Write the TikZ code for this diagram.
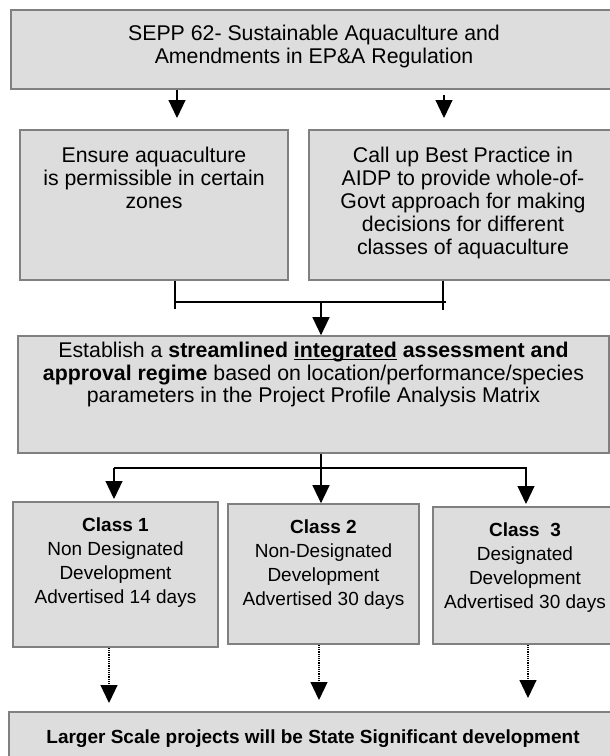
\documentclass[tikz,border=0pt]{standalone}
\usepackage{fontspec}
\setmainfont{Liberation Sans}
\usetikzlibrary{arrows.meta}
\definecolor{boxfill}{RGB}{221,221,221}
\definecolor{boxline}{RGB}{128,128,128}
\newsavebox\ulbox
\newcommand\ulword[1]{\sbox\ulbox{#1}\rlap{\rule[-2.6pt]{\wd\ulbox}{1.3pt}}\usebox\ulbox}
\tikzset{
  boxnode/.style={rectangle, draw=boxline, fill=boxfill, line width=1.6pt, inner sep=0pt},
  maintxt/.style={anchor=north, inner sep=0pt, align=center, font=\fontsize{21.3}{23}\selectfont},
  esttxt/.style={maintxt, font=\fontsize{21.3}{22}\selectfont},
  classtxt/.style={maintxt, font=\fontsize{19}{24}\selectfont},
  link/.style={line width=1.2pt, black},
  arr/.style={link, -{Triangle[width=17pt,length=18pt]}},
  darr/.style={arr, densely dotted}
}
\begin{document}
\begin{tikzpicture}[x=1pt, y=-1pt]
\useasboundingbox (0,0) rectangle (610,756);

% boxes
\node[boxnode, minimum width=606pt, minimum height=79pt]  (top)    at (314,49.5)  {};
\node[boxnode, minimum width=268pt, minimum height=150pt] (ensure) at (154,205)   {};
\node[boxnode, minimum width=308pt, minimum height=150pt] (callup) at (463,205)   {};
\node[boxnode, minimum width=591pt, minimum height=117pt] (est)    at (313.5,394.5) {};
\node[boxnode, minimum width=205pt, minimum height=145pt] (c1)     at (115.5,574.5) {};
\node[boxnode, minimum width=191pt, minimum height=140pt] (c2)     at (323.5,574) {};
\node[boxnode, minimum width=184pt, minimum height=137pt] (c3)     at (525,575.5) {};
\node[boxnode, minimum width=608pt, minimum height=70pt]  (bot)    at (313,747)   {};

% texts
\node[maintxt] (toptxt) at (314,23.9)
  {\strut SEPP 62- Sustainable Aquaculture and\\Amendments in EP\&A Regulation};
\node[maintxt] (ensuretxt) at (154,145.9)
  {\strut Ensure aquaculture\\is permissible in certain\\zones};
\node[maintxt] (calluptxt) at (463,145.9)
  {\strut Call up Best Practice in\\AIDP to provide whole-of-\\Govt approach for making\\decisions for different\\classes of aquaculture};
\node[esttxt] (esttext) at (313.5,341.6)
  {\strut Establish a \textbf{streamlined \ulword{integrated} assessment and}\\
   \textbf{approval regime} based on location/performance/species\\
   parameters in the Project Profile Analysis Matrix};
\node[classtxt] (c1txt) at (115.5,514.2)
  {\strut\textbf{Class 1}\\Non Designated\\Development\\Advertised 14 days};
\node[classtxt] (c2txt) at (323.5,516.2)
  {\strut\textbf{Class 2}\\Non-Designated\\Development\\Advertised 30 days};
\node[classtxt] (c3txt) at (525,519.2)
  {\strut\textbf{Class\ \ 3}\\Designated\\Development\\Advertised 30 days};
\node[classtxt] (bottxt) at (313,726.2)
  {\strut\textbf{Larger Scale projects will be State Significant development}};

% connector points
\coordinate (a1) at (177,118);
\coordinate (a2s) at (444,95);
\coordinate (a2) at (444,118);
\coordinate (jl) at (175,309);
\coordinate (jr) at (443,310);
\coordinate (hl) at (175,302);
\coordinate (hr) at (446,302);
\coordinate (hm) at (321,302);
\coordinate (sm) at (321,468);
\coordinate (sl) at (114,468);
\coordinate (sr) at (527,468);
\coordinate (t1) at (114,499);
\coordinate (t3s) at (526,468);
\coordinate (t3) at (526,504);
\coordinate (d1) at (109,703);
\coordinate (d2) at (319,700);
\coordinate (d3) at (528,698);

% top box to the two boxes below
\draw[arr] (top.south -| a1) -- (a1);
\draw[arr] (a2s) -- (a2);

% join of the two boxes
\draw[link] (ensure.south -| jl) -- (jl);
\draw[link] (callup.south -| jr) -- (jr);
\draw[link] (hl) -- (hr);
\draw[arr] (hm) -- (est.north -| hm);

% split to the three classes
\draw[arr] (est.south -| sm) -- (c2.north -| sm);
\draw[link] (sl) -- (sr);
\draw[arr] (sl) -- (t1);
\draw[arr] (t3s) -- (t3);

% dotted arrows to the bottom box
\draw[darr] (c1.south -| d1) -- (d1);
\draw[darr] (c2.south -| d2) -- (d2);
\draw[darr] (c3.south -| d3) -- (d3);
\end{tikzpicture}
\end{document}
